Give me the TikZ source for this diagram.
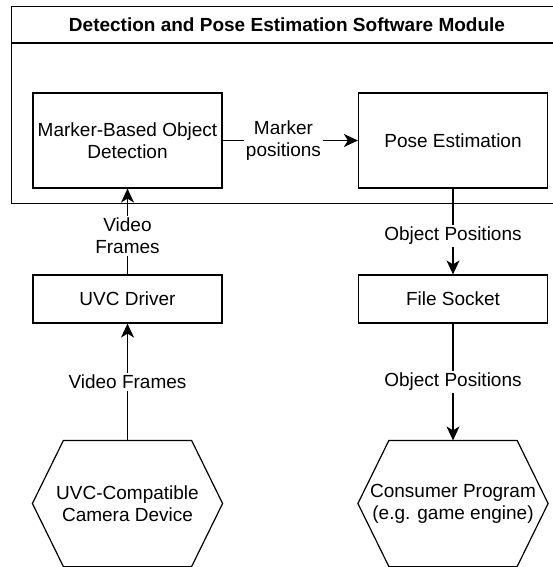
\documentclass[tikz,border=0pt]{standalone}
\usepackage{fontspec}
\setmainfont{Liberation Sans}
\usetikzlibrary{arrows.meta}
\begin{document}
\begin{tikzpicture}[x=1pt,y=-1pt,line width=1.2pt,
    font=\fontsize{19}{22}\selectfont,
    box/.style={draw,align=center,inner sep=0pt,minimum width=189pt},
    hexa/.style={align=center,inner sep=0pt,minimum width=189pt,minimum height=125pt},
    lbl/.style={fill=white,align=center,inner sep=2pt},
    flow/.style={-{Stealth[length=14pt,width=13pt,inset=4pt]}}]

    \useasboundingbox (0,0) rectangle (552,567);

    %modulo
    \node[draw,anchor=north west,minimum width=553pt,minimum height=197pt,inner sep=0pt] (module) at (11,6) {};
    \node[font=\fontsize{19}{22}\selectfont\bfseries] (title) at (287,25) {Detection and Pose Estimation Software Module};
    \draw (module.west |- 0,43) -- (module.east |- 0,43);

    %cajas
    \node[box,minimum height=95pt] (det) at (127.5,140.5) {Marker-Based Object\\Detection};
    \node[box,minimum height=95pt] (pose) at (453,140.5) {Pose Estimation};
    \node[box,minimum height=48pt] (uvc) at (127.5,299) {UVC Driver};
    \node[box,minimum height=48pt] (sock) at (453,299) {File Socket};

    %hexagonos
    \node[hexa] (cam) at (127.5,503.5) {UVC-Compatible\\Camera Device};
    \node[hexa] (game) at (453,503.5) {Consumer Program\\(e.g. game engine)};
    \foreach \n in {cam,game}{
        \draw (\n.west) -- ([xshift=31pt]\n.north west) -- ([xshift=-31pt]\n.north east)
            -- (\n.east) -- ([xshift=-31pt]\n.south east) -- ([xshift=31pt]\n.south west) -- cycle;
    }

    %flechas
    \draw[flow] (det) -- node[lbl,pos=0.45] {Marker\\positions} (pose);
    \draw[flow] (uvc) -- node[lbl,pos=0.45] {Video\\Frames} (det);
    \draw[flow] (cam) -- node[lbl] {Video Frames} (uvc);
    \draw[flow] (pose) -- node[lbl,pos=0.55] {Object Positions} (sock);
    \draw[flow] (sock) -- node[lbl] {Object Positions} (game);

\end{tikzpicture}
\end{document}
